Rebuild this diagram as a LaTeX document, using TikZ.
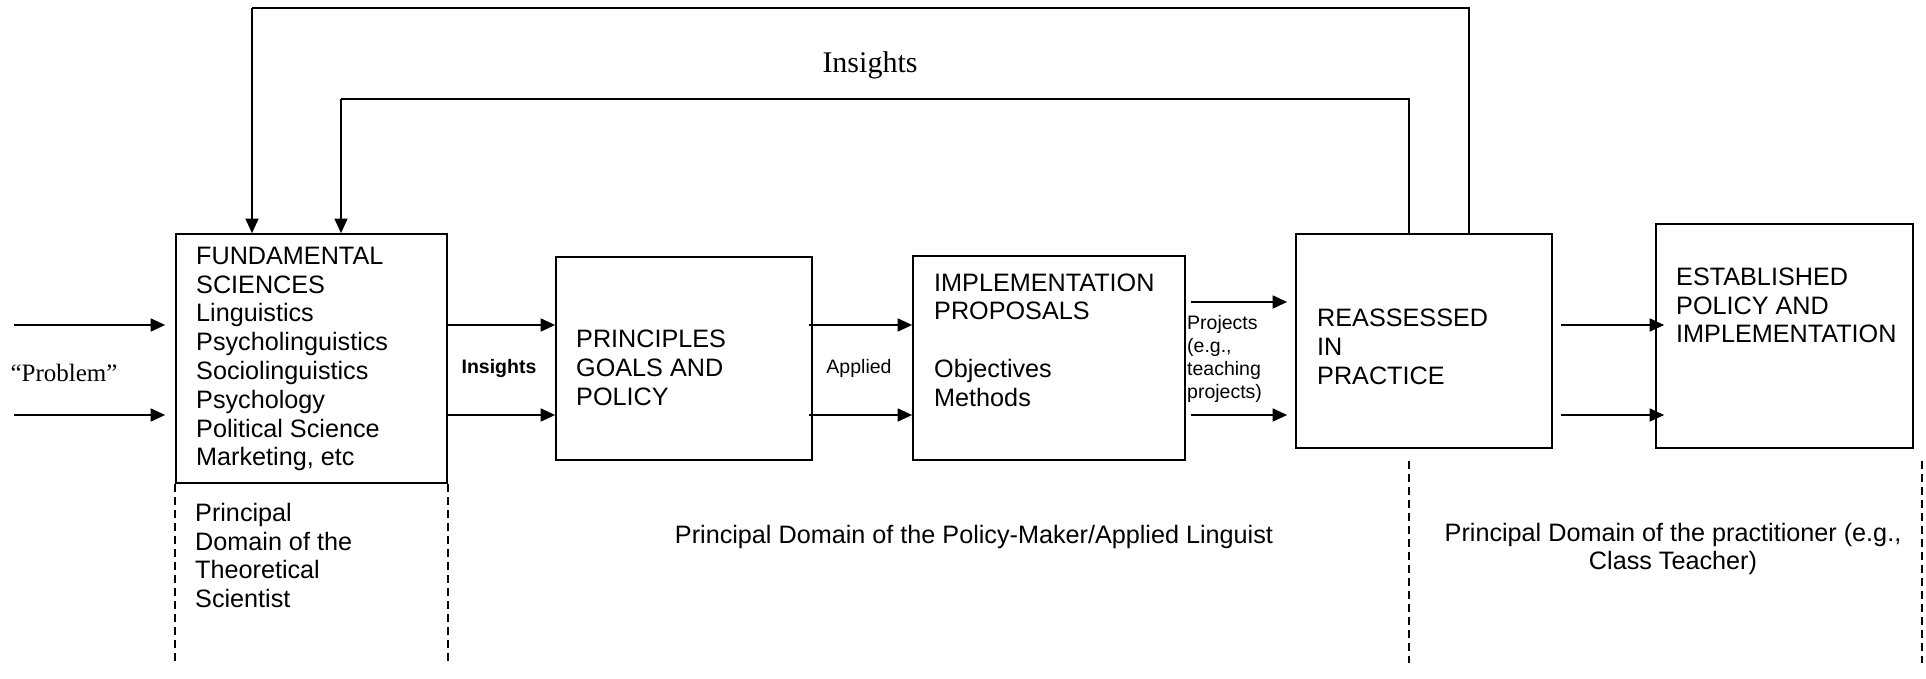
\documentclass[tikz,border=0pt]{standalone}
\usepackage{fontspec}
\setmainfont{Liberation Sans}
\newfontfamily\serifx{Liberation Serif}
\usetikzlibrary{arrows.meta}
\tikzset{
  box/.style={draw, line width=1.7pt, rectangle, inner sep=0pt},
  arr/.style={line width=1.7pt, -{Triangle[length=14.5pt,width=13pt]}},
  loopline/.style={line width=1.5pt},
  dashline/.style={line width=1.6pt, dash pattern=on 8pt off 5pt},
  txt/.style={inner sep=0pt, align=left, anchor=west, font=\fontsize{25.2}{28.8}\selectfont},
  ctxt/.style={inner sep=0pt, align=center, font=\fontsize{25.2}{28.8}\selectfont},
  small/.style={inner sep=0pt, font=\fontsize{19.5}{23.3}\selectfont}
}
\begin{document}
\begin{tikzpicture}[x=1pt,y=-1pt]
\useasboundingbox (0,0) rectangle (1926,679);
% boxes
\node[box, minimum width=271pt, minimum height=249pt] (fund) at (311.5,358.5) {};
\node[box, minimum width=256pt, minimum height=203pt] (prin) at (684,358.5) {};
\node[box, minimum width=272pt, minimum height=204pt] (imp) at (1049,358) {};
\node[box, minimum width=256pt, minimum height=214pt] (rea) at (1424,341) {};
\node[box, minimum width=257pt, minimum height=224pt] (est) at (1784.5,336) {};
% box texts
\node[txt] (fundtxt) at (196,359) {FUNDAMENTAL\\SCIENCES\\Linguistics\\Psycholinguistics\\Sociolinguistics\\Psychology\\Political Science\\Marketing, etc};
\node[txt] (printxt) at (576,368) {PRINCIPLES\\GOALS AND\\POLICY};
\node[txt] (imptxt) at (934,340) {IMPLEMENTATION\\PROPOSALS\\\strut\\Objectives\\Methods};
\node[txt] (reatxt) at (1317,347) {REASSESSED\\IN\\PRACTICE};
\node[txt] (esttxt) at (1676,305.5) {ESTABLISHED\\POLICY AND\\IMPLEMENTATION};
% labels
\node[small, font=\fontsize{19.5}{23.3}\selectfont\bfseries] (lins) at (499,368) {Insights};
\node[small] (lapp) at (859,368) {Applied};
\node[small, align=left, anchor=west] (lproj) at (1187,359) {Projects\\(e.g.,\\teaching\\projects)};
\node[inner sep=0pt, font=\serifx\fontsize{25}{29}\selectfont] (lprob) at (64,373) {“Problem”};
\node[inner sep=0pt, font=\serifx\fontsize{30}{34}\selectfont] (ltop) at (870,65) {Insights};
\node[txt] (dom1) at (195,555.5) {Principal\\Domain of the\\Theoretical\\Scientist};
\node[ctxt] (dom2) at (974,537) {Principal Domain of the Policy-Maker/Applied Linguist};
\node[ctxt] (dom3) at (1673,549) {Principal Domain of the practitioner (e.g.,\\Class Teacher)};
% coordinates
\coordinate (ya) at (0,325);
\coordinate (yb) at (0,415);
\coordinate (yc) at (0,302);
\coordinate (p1) at (14,325);
\coordinate (p2) at (14,415);
\coordinate (outL) at (252,8);
\coordinate (outR) at (1469,8);
\coordinate (inL) at (341,99);
\coordinate (inR) at (1409,99);
% input arrows
\draw[arr, shorten >=10pt] (p1) -- (fund.west |- p1);
\draw[arr, shorten >=10pt] (p2) -- (fund.west |- p2);
% fund -> prin
\draw[arr] (fund.east |- ya) -- (prin.west |- ya);
\draw[arr] (fund.east |- yb) -- (prin.west |- yb);
% prin -> imp
\draw[arr, shorten <=-4pt] (prin.east |- ya) -- (imp.west |- ya);
\draw[arr, shorten <=-4pt] (prin.east |- yb) -- (imp.west |- yb);
% imp -> rea
\draw[arr, shorten <=5pt, shorten >=8pt] (imp.east |- yc) -- (rea.west |- yc);
\draw[arr, shorten <=5pt, shorten >=8pt] (imp.east |- yb) -- (rea.west |- yb);
% rea -> est
\draw[arr, shorten <=8pt, shorten >=-9pt] (rea.east |- ya) -- (est.west |- ya);
\draw[arr, shorten <=8pt, shorten >=-9pt] (rea.east |- yb) -- (est.west |- yb);
% feedback loops
\draw[loopline] (rea.north -| outR) -- (outR) -- (outL);
\draw[arr, line width=1.5pt] (outL) -- (fund.north -| outL);
\draw[loopline] (rea.north -| inR) -- (inR) -- (inL);
\draw[arr, line width=1.5pt] (inL) -- (fund.north -| inL);
% dashed domain lines
\draw[dashline] (fund.south west) -- ++(0,177);
\draw[dashline] (fund.south east) -- ++(0,177);
\draw[dashline] ([yshift=-12pt]rea.south -| inR) -- ++(0,202);
\draw[dashline] ([xshift=8pt,yshift=-12pt]est.south east) -- ++(0,202);
\end{tikzpicture}
\end{document}
